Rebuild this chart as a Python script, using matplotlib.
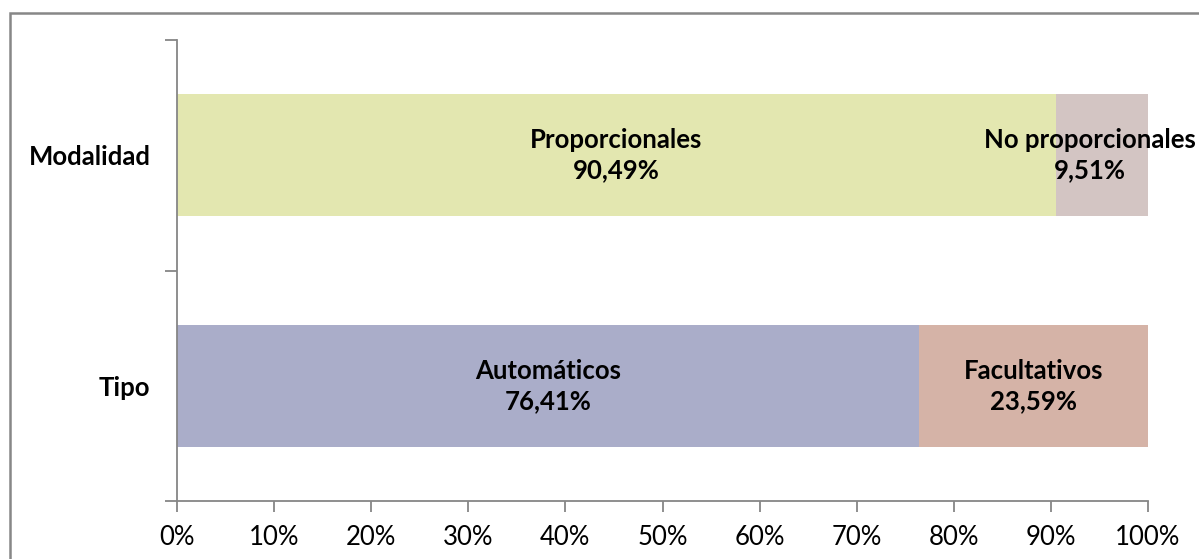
import matplotlib
matplotlib.use("Agg")
import matplotlib.pyplot as plt
from matplotlib.patches import Rectangle
from matplotlib.ticker import MultipleLocator, FuncFormatter

categories = ["Tipo", "Modalidad"]
first_labels = ["Automáticos", "Proporcionales"]
first_values = [76.41, 90.49]
second_labels = ["Facultativos", "No proporcionales"]
second_values = [23.59, 9.51]
first_colors = ["#AAADC9", "#E3E7B0"]
second_colors = ["#D5B3A7", "#D3C5C3"]

plt.rcParams['font.family'] = ['Lato', 'DejaVu Sans']

W, H = 1199, 559
fig = plt.figure(figsize=(W / 100, H / 100), dpi=100)
ax = fig.add_axes([177 / W, (H - 501) / H, (1148 - 177) / W, (501 - 40) / H])

axis_col = "#868686"
ypos = list(range(len(categories)))
bw = 0.53
fs = 18.5
for i in ypos:
    ax.barh(i, first_values[i], height=bw, color=first_colors[i], left=0)
    ax.barh(i, second_values[i], height=bw, color=second_colors[i], left=first_values[i])
    ax.text(first_values[i] / 2, i, f"{first_labels[i]}\n{first_values[i]:.2f}%".replace('.', ','),
            ha='center', va='center', fontsize=fs, fontweight='bold', linespacing=1.3)
    ax.text(first_values[i] + second_values[i] / 2 - (1.2 if i == 1 else 0), i,
            f"{second_labels[i]}\n{second_values[i]:.2f}%".replace('.', ','),
            ha='center', va='center', fontsize=fs, fontweight='bold', linespacing=1.3,
            clip_on=False)

ax.set_xlim(0, 100)
ax.set_ylim(-0.5, 1.5)
ax.xaxis.set_major_locator(MultipleLocator(10))
ax.xaxis.set_major_formatter(FuncFormatter(lambda v, p: f"{v:.0f}%"))
ax.set_yticks([-0.5, 0.5, 1.5])
ax.set_yticklabels([])
ax.set_yticks(ypos, minor=True)
ax.set_yticklabels(categories, minor=True, fontsize=fs, fontweight='bold')
ax.tick_params(axis='y', which='minor', length=0, pad=19)
ax.tick_params(axis='y', which='major', length=9, color=axis_col, width=1.3)
ax.tick_params(axis='x', length=8, color=axis_col, width=1.3, labelsize=18.5, pad=9)
for s in ['top', 'right']:
    ax.spines[s].set_visible(False)
for s in ['left', 'bottom']:
    ax.spines[s].set_color(axis_col)
    ax.spines[s].set_linewidth(1.3)

border = Rectangle((10 / W, -0.1), 1.2, (H - 13) / H + 0.1, transform=fig.transFigure,
                   fill=False, edgecolor="#878787", linewidth=1.8, clip_on=False)
fig.add_artist(border)

fig.savefig("out.png", dpi=100)
